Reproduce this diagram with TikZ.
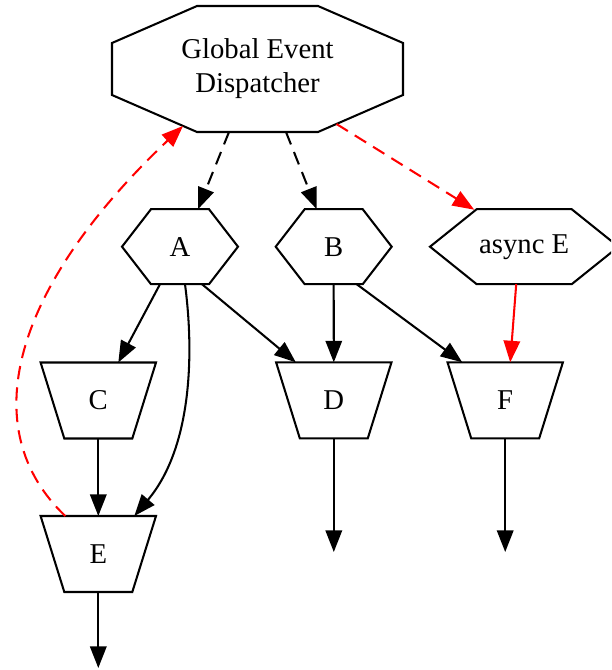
\documentclass[tikz,border=0pt]{standalone}
\usepackage{fontspec}
\setmainfont{Liberation Serif}
\usetikzlibrary{arrows.meta,calc}
\begin{document}
\begin{tikzpicture}[x=0.4878pt,y=-0.4878pt,
  lbl/.style={inner sep=0pt,font=\fontsize{14}{16.5}\selectfont,align=center},
  shp/.style={draw=black,line width=1pt,line join=miter,fill=white},
  edge/.style={line width=1pt,-{Triangle[length=10.5pt,width=8pt]}},
  dsh/.style={dash pattern=on 6.5pt off 4pt},
]
\clip (0,0) rectangle (611,670);
\fill[white] (0,0) rectangle (611,670);
% centres
\coordinate (cDisp) at (257.5,69);
\coordinate (cA) at (180,246.7);
\coordinate (cB) at (333.7,246.7);
\coordinate (cAE) at (524.2,246.7);
\coordinate (cC) at (98.3,400.5);
\coordinate (cD) at (333.8,400.3);
\coordinate (cF) at (505.2,400.3);
\coordinate (cE) at (98.3,554);
% outlines
\draw[shp,shift={(cDisp)}] (-60.5,-63) -- (60.5,-63) -- (145.5,-26) -- (145.5,26) -- (60.5,63) -- (-60.5,63) -- (-145.5,26) -- (-145.5,-26) -- cycle;
\foreach \c in {cA,cB}{
  \draw[shp,shift={(\c)}] (-58,0) -- (-29,-37.5) -- (29,-37.5) -- (58,0) -- (29,37.5) -- (-29,37.5) -- cycle;
}
\draw[shp,shift={(cAE)}] (-94.2,0) -- (-47.5,-37.5) -- (47.5,-37.5) -- (94.2,0) -- (47.5,37.5) -- (-47.5,37.5) -- cycle;
\foreach \c in {cC,cD,cF,cE}{
  \draw[shp,shift={(\c)}] (-57.7,-38) -- (57.7,-38) -- (34,38) -- (-34,38) -- cycle;
}
% labels
\node[lbl] (Disp) at (cDisp) {Global Event\\Dispatcher};
\node[lbl] (A) at (cA) {A};
\node[lbl] (B) at (cB) {B};
\node[lbl] (AE) at (cAE) {async E};
\node[lbl] (C) at (cC) {C};
\node[lbl] (D) at (cD) {D};
\node[lbl] (F) at (cF) {F};
\node[lbl] (E) at (cE) {E};
% free ends
\coordinate (Dout) at (333.8,552);
\coordinate (Fout) at (505.2,552);
\coordinate (Eout) at (98.3,668);
% edges
\draw[edge,dsh] ($(Disp)+(-28.5,63)$) -- ($(A)+(18,-37.5)$);
\draw[edge,dsh] ($(Disp)+(28.5,63)$) -- ($(B)+(-17,-37.5)$);
\draw[edge,dsh,red] ($(Disp)+(79,55)$) -- ($(AE)+(-50,-37)$);
\draw[edge,dsh,red] ($(E)+(-33,-38)$) .. controls (-25,430) and (10,290) .. ($(Disp)+(-74.5,57)$);
\draw[edge] ($(A)+(-20,37.5)$) -- ($(C)+(20,-38)$);
\draw[edge] ($(A)+(5,37.5)$) .. controls (195,360) and (190,450) .. ($(E)+(36,-38)$);
\draw[edge] ($(A)+(22,37.5)$) -- ($(D)+(-38,-38)$);
\draw[edge] ($(B)+(0,37.5)$) -- ($(D)+(0,-38)$);
\draw[edge] ($(B)+(23,37.5)$) -- ($(F)+(-43,-38)$);
\draw[edge,red] ($(AE)+(-8,37.5)$) -- ($(F)+(5,-38)$);
\draw[edge] ($(C)+(0,38)$) -- ($(E)+(0,-38)$);
\draw[edge] ($(D)+(0,38)$) -- (Dout);
\draw[edge] ($(F)+(0,38)$) -- (Fout);
\draw[edge] ($(E)+(0,38)$) -- (Eout);
\end{tikzpicture}
\end{document}
